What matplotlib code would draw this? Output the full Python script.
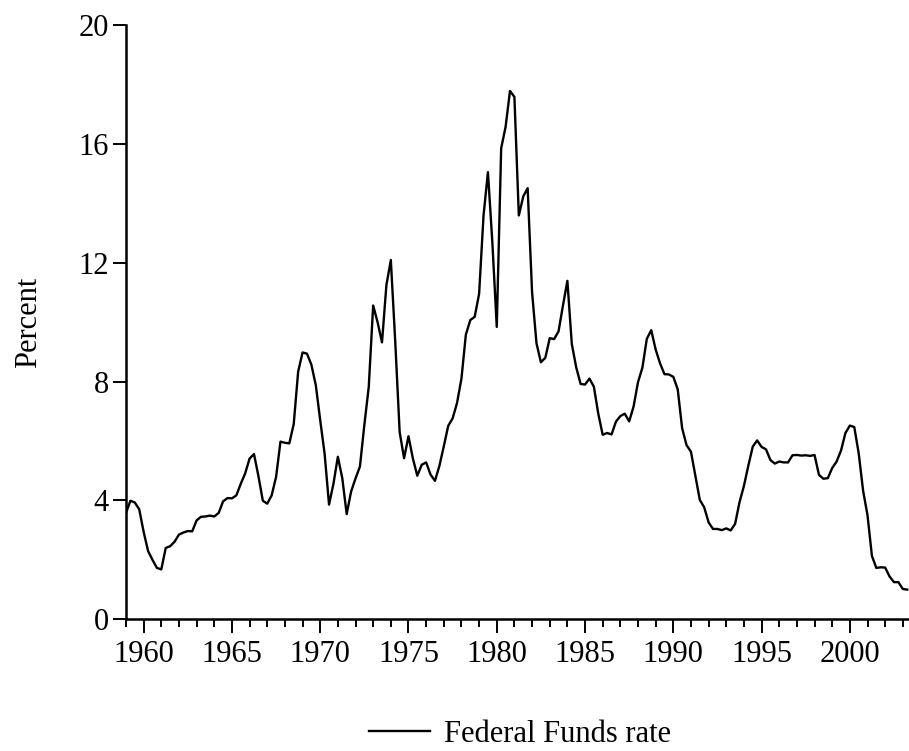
import numpy as np
import matplotlib.pyplot as plt
from matplotlib.ticker import MultipleLocator

# -----------------------------
# DATA: quarterly Federal Funds rate (percent), first point sits at 1959.0
# -----------------------------
START_YEAR = 1959.0
rate = [
    3.58, 3.99,                                     # 1959
    3.93, 3.70, 2.94, 2.30,                         # 1960
    2.00, 1.73, 1.68, 2.40,                         # 1961
    2.46, 2.61, 2.85, 2.92,                         # 1962
    2.97, 2.96, 3.33, 3.45,                         # 1963
    3.46, 3.49, 3.46, 3.58,                         # 1964
    3.97, 4.08, 4.07, 4.17,                         # 1965
    4.56, 4.91, 5.41, 5.56,                         # 1966
    4.82, 3.99, 3.89, 4.17,                         # 1967
    4.79, 5.98, 5.94, 5.92,                         # 1968
    6.57, 8.33, 8.98, 8.94,                         # 1969
    8.57, 7.88, 6.70, 5.57,                         # 1970
    3.86, 4.56, 5.47, 4.75,                         # 1971
    3.54, 4.30, 4.74, 5.14,                         # 1972
    6.54, 7.82, 10.56, 10.00,                       # 1973
    9.32, 11.25, 12.09, 9.35,                       # 1974
    6.30, 5.42, 6.16, 5.41,                         # 1975
    4.83, 5.20, 5.28, 4.87,                         # 1976
    4.66, 5.16, 5.82, 6.51,                         # 1977
    6.76, 7.28, 8.10, 9.58,                         # 1978
    10.07, 10.18, 10.95, 13.58,                     # 1979
    15.05, 12.69, 9.84, 15.85,                      # 1980
    16.57, 17.78, 17.58, 13.59,                     # 1981
    14.23, 14.51, 11.01, 9.29,                      # 1982
    8.65, 8.80, 9.46, 9.43,                         # 1983
    9.69, 10.56, 11.39, 9.27,                       # 1984
    8.48, 7.92, 7.90, 8.10,                         # 1985
    7.83, 6.92, 6.21, 6.27,                         # 1986
    6.22, 6.65, 6.84, 6.92,                         # 1987
    6.66, 7.16, 7.98, 8.47,                         # 1988
    9.44, 9.73, 9.08, 8.61,                         # 1989
    8.25, 8.24, 8.16, 7.74,                         # 1990
    6.43, 5.86, 5.64, 4.82,                         # 1991
    4.02, 3.77, 3.26, 3.04,                         # 1992
    3.04, 3.00, 3.06, 2.99,                         # 1993
    3.21, 3.94, 4.49, 5.17,                         # 1994
    5.81, 6.02, 5.80, 5.72,                         # 1995
    5.36, 5.24, 5.31, 5.28,                         # 1996
    5.28, 5.52, 5.53, 5.51,                         # 1997
    5.52, 5.50, 5.53, 4.86,                         # 1998
    4.73, 4.75, 5.09, 5.31,                         # 1999
    5.68, 6.27, 6.52, 6.47,                         # 2000
    5.59, 4.33, 3.50, 2.13,                         # 2001
    1.73, 1.75, 1.74, 1.44,                         # 2002
    1.25, 1.25, 1.02, 1.00,                         # 2003
]
series_label = "Federal Funds rate"
y_ticks = [0, 4, 8, 12, 16, 20]
x_major = [1960, 1965, 1970, 1975, 1980, 1985, 1990, 1995, 2000]

dates = START_YEAR + 0.25 * np.arange(len(rate))

# -----------------------------
# PLOT
# -----------------------------
plt.rcParams["font.family"] = ["Liberation Serif", "DejaVu Serif"]
plt.rcParams["font.size"] = 22

W, H = 909, 751
fig = plt.figure(figsize=(W / 100, H / 100), dpi=100)
ax = fig.add_axes([126 / W, 131.7 / H, (W - 126) / W, (619.3 - 25) / H])

(line,) = ax.plot(dates, rate, color="black", lw=1.7, label=series_label)

ax.set_xlim(1959.0, 2003.35)
ax.set_ylim(0, 20)
ax.set_yticks(y_ticks)
ax.set_xticks(x_major)
ax.xaxis.set_minor_locator(MultipleLocator(1))

for s in ["top", "right"]:
    ax.spines[s].set_visible(False)
for s in ["left", "bottom"]:
    ax.spines[s].set_linewidth(1.8)

ax.tick_params(axis="y", direction="out", length=9.5, width=1.4, pad=3)
ax.tick_params(axis="x", which="major", direction="out", length=10, width=1.4, pad=5)
ax.tick_params(axis="x", which="minor", direction="out", length=5.5, width=1.4)

fig.text(29 / W, 1 - 322 / H, "Percent", rotation=90, ha="center", va="center",
         fontsize=22)

fig.legend(handles=[line], loc="center", bbox_to_anchor=(520 / W, 1 - 734 / H),
           frameon=False, handlelength=2.0, handletextpad=0.45, fontsize=22)

fig.savefig("out.png", dpi=100)
